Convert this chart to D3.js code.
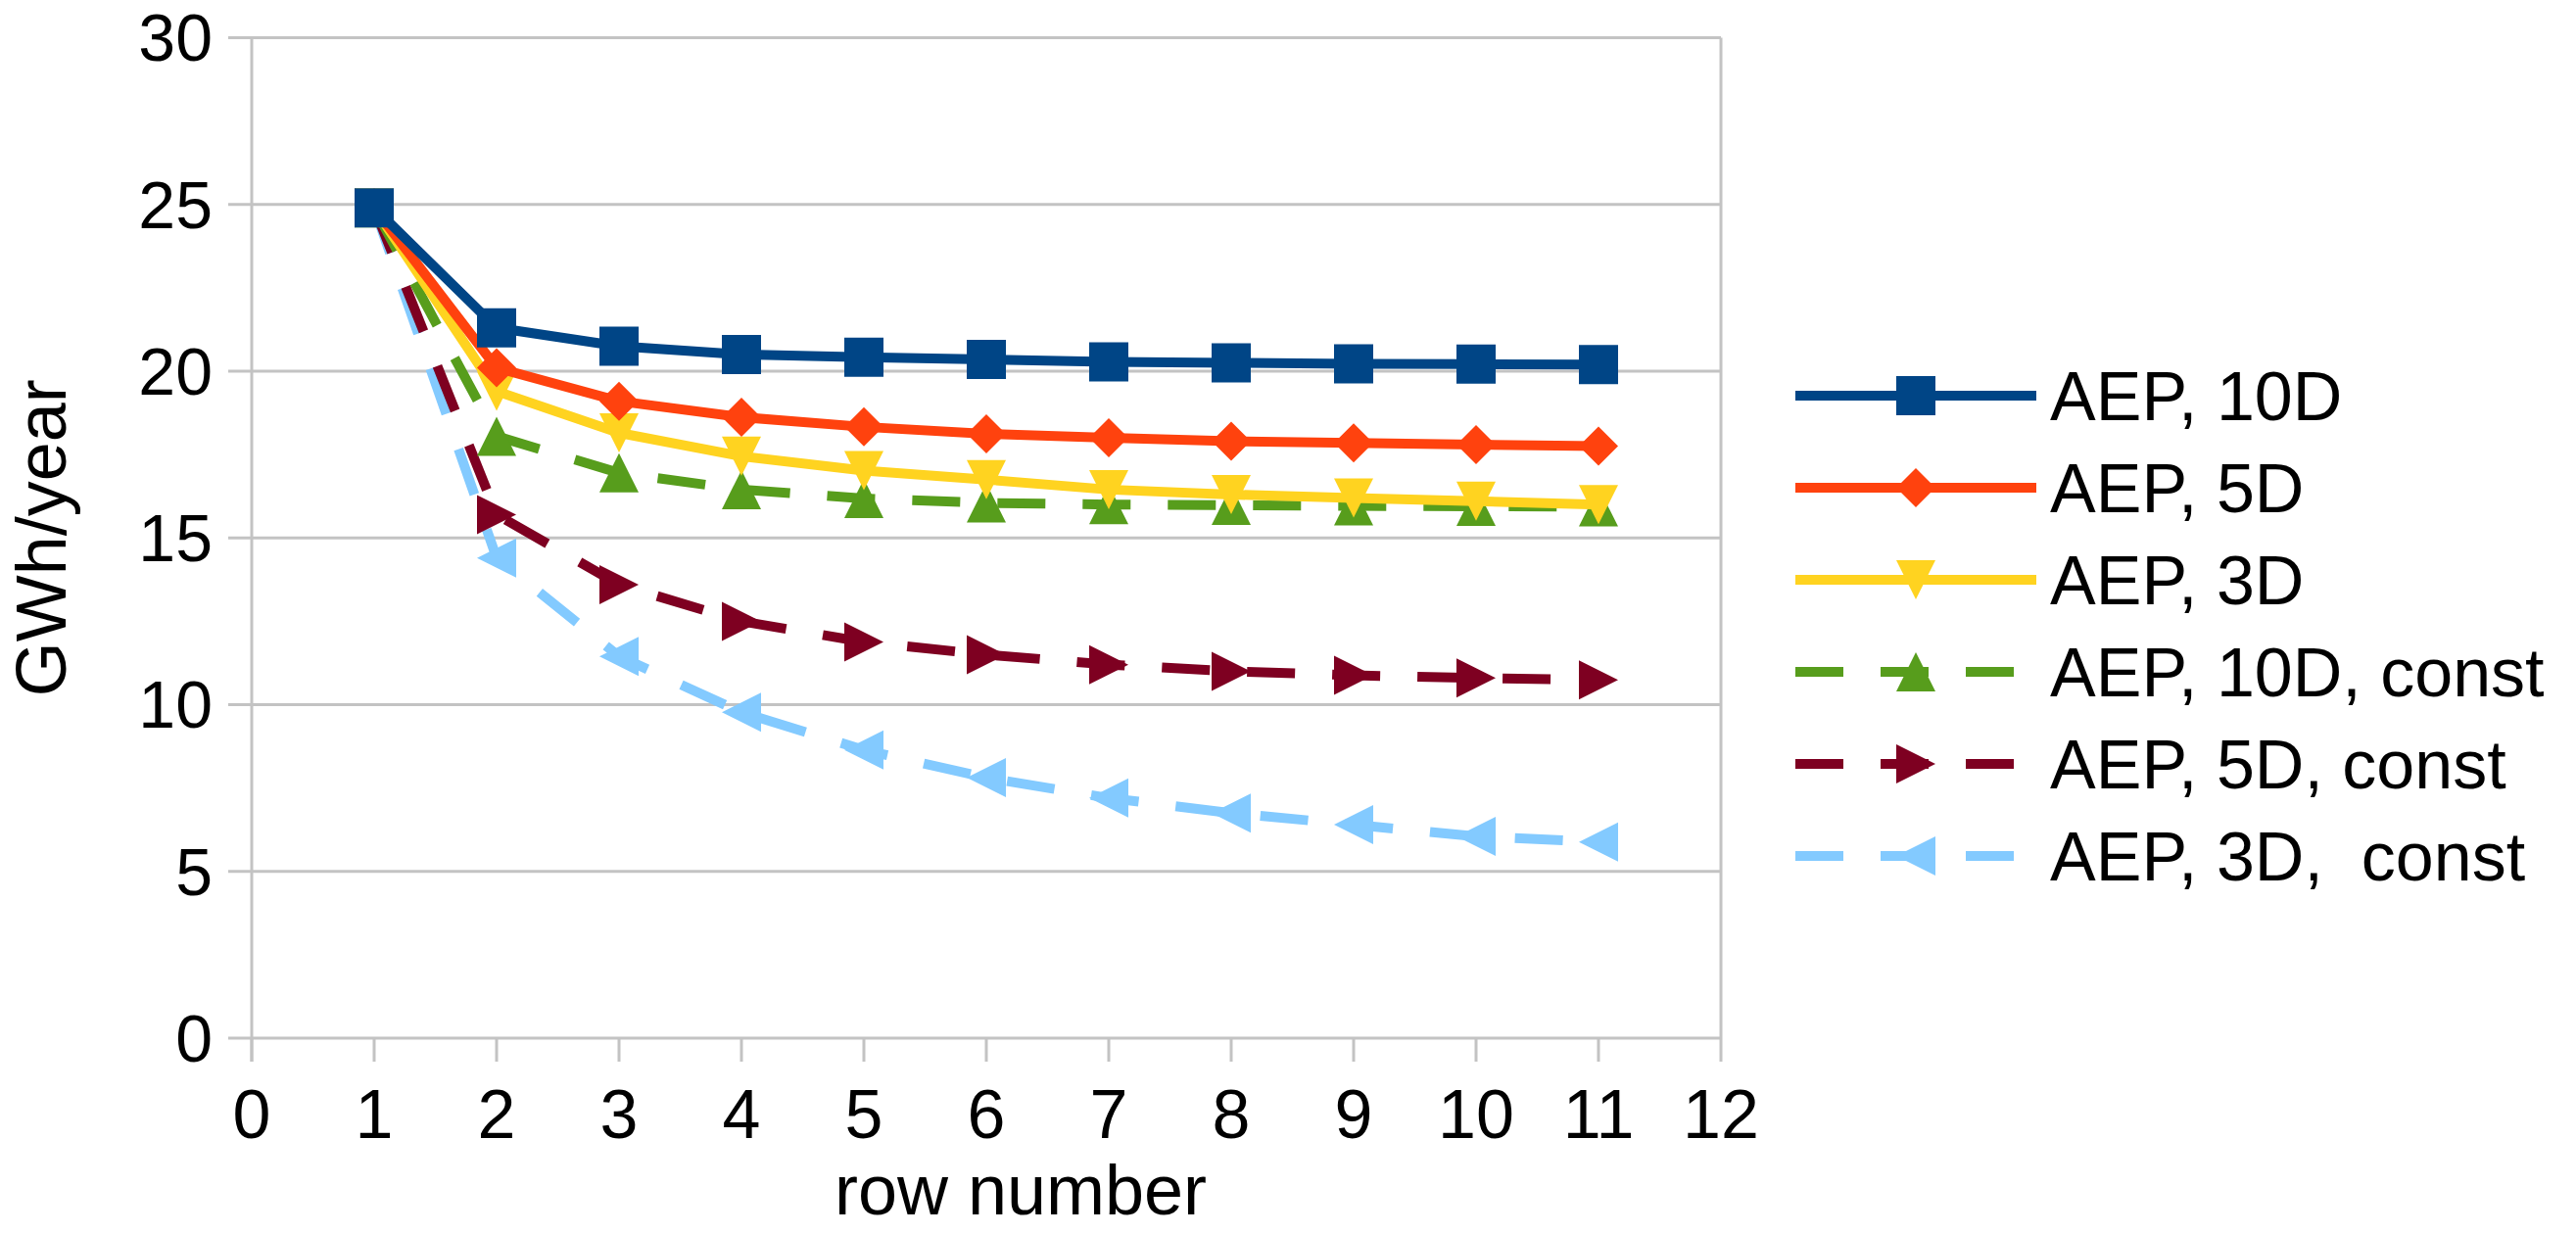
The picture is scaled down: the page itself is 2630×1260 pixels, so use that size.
<!DOCTYPE html>
<html>
<head>
<meta charset="utf-8">
<script src="https://cdn.jsdelivr.net/npm/d3@7"></script>
<style>
  body { margin: 0; background: #fff; }
  text { font-family: "Liberation Sans", Arial, sans-serif; fill: #000; }
</style>
</head>
<body>
<div id="chart"></div>
<script>
// row numbers and annual energy production per series (GWh/year)
var rows = [1, 2, 3, 4, 5, 6, 7, 8, 9, 10, 11];
var aep10D      = [24.9, 21.3, 20.75, 20.5, 20.42, 20.35, 20.28, 20.25, 20.22, 20.21, 20.2];
var aep5D       = [24.9, 20.1, 19.1, 18.62, 18.33, 18.12, 18.0, 17.9, 17.85, 17.8, 17.75];
var aep3D       = [24.9, 19.4, 18.15, 17.45, 17.02, 16.75, 16.45, 16.3, 16.2, 16.1, 16.0];
var aep10Dconst = [24.9, 18.05, 16.95, 16.45, 16.18, 16.05, 16.0, 15.98, 15.96, 15.95, 15.93];
var aep5Dconst  = [24.9, 15.7, 13.6, 12.5, 11.88, 11.5, 11.2, 11.0, 10.88, 10.8, 10.74];
var aep3Dconst  = [24.9, 14.4, 11.45, 9.77, 8.64, 7.81, 7.2, 6.75, 6.4, 6.05, 5.88];

var seriesNames = ["AEP, 10D", "AEP, 5D", "AEP, 3D", "AEP, 10D, const", "AEP, 5D, const", "AEP, 3D,  const"];
var xTicks = [0, 1, 2, 3, 4, 5, 6, 7, 8, 9, 10, 11, 12];
var yTicks = [0, 5, 10, 15, 20, 25, 30];

(function() {
  var width = 2630, height = 1260;
  // plot area edges
  var pLeft = 257, pRight = 1757, pTop = 38.5, pBottom = 1060;

  var series = [
    { name: seriesNames[0], values: aep10D,      color: "#004586", dash: null,    marker: "square" },
    { name: seriesNames[1], values: aep5D,       color: "#ff420e", dash: null,    marker: "diamond" },
    { name: seriesNames[2], values: aep3D,       color: "#ffd320", dash: null,    marker: "down" },
    { name: seriesNames[3], values: aep10Dconst, color: "#579d1c", dash: "49,38", marker: "up" },
    { name: seriesNames[4], values: aep5Dconst,  color: "#7e0021", dash: "49,38", marker: "right" },
    { name: seriesNames[5], values: aep3Dconst,  color: "#83caff", dash: "49,38", marker: "left" }
  ];

  var x = d3.scaleLinear().domain([0, 12]).range([pLeft, pRight]);
  var y = d3.scaleLinear().domain([0, 30]).range([pBottom, pTop]);

  var svg = d3.select("#chart").append("svg")
    .attr("width", width)
    .attr("height", height);

  var gridColor = "#c3c3c3";

  // horizontal grid lines (they stick out left as ticks)
  svg.append("g").selectAll("line")
    .data(yTicks)
    .enter().append("line")
    .attr("x1", pLeft - 24).attr("x2", pRight)
    .attr("y1", function(d) { return y(d); })
    .attr("y2", function(d) { return y(d); })
    .attr("stroke", gridColor)
    .attr("stroke-width", 3);

  // y axis line + right wall
  svg.append("line")
    .attr("x1", pLeft).attr("x2", pLeft).attr("y1", pTop).attr("y2", pBottom + 24)
    .attr("stroke", gridColor).attr("stroke-width", 3);
  svg.append("line")
    .attr("x1", pRight).attr("x2", pRight).attr("y1", pTop).attr("y2", pBottom)
    .attr("stroke", gridColor).attr("stroke-width", 3);

  // x ticks
  svg.append("g").selectAll("line")
    .data(xTicks)
    .enter().append("line")
    .attr("x1", function(d) { return x(d); })
    .attr("x2", function(d) { return x(d); })
    .attr("y1", pBottom).attr("y2", pBottom + 24)
    .attr("stroke", gridColor)
    .attr("stroke-width", 3);

  // tick labels
  svg.append("g").selectAll("text")
    .data(yTicks)
    .enter().append("text")
    .attr("x", 217)
    .attr("y", function(d) { return y(d); })
    .attr("dy", "0.35em")
    .attr("text-anchor", "end")
    .attr("font-size", 68)
    .text(function(d) { return d; });

  svg.append("g").selectAll("text")
    .data(xTicks)
    .enter().append("text")
    .attr("x", function(d) { return x(d); })
    .attr("y", 1162)
    .attr("text-anchor", "middle")
    .attr("font-size", 70)
    .text(function(d) { return d; });

  // axis titles
  svg.append("text")
    .attr("x", 1042)
    .attr("y", 1240)
    .attr("text-anchor", "middle")
    .attr("font-size", 72)
    .text("row number");

  svg.append("text")
    .attr("transform", "translate(67," + ((pTop + pBottom) / 2) + ") rotate(-90)")
    .attr("text-anchor", "middle")
    .attr("font-size", 72)
    .text("GWh/year");

  function markerPath(type, r) {
    switch (type) {
      case "square":  return "M" + (-r) + "," + (-r) + "H" + r + "V" + r + "H" + (-r) + "Z";
      case "diamond": return "M0," + (-r) + "L" + r + ",0L0," + r + "L" + (-r) + ",0Z";
      case "down":    return "M" + (-r) + "," + (-r) + "H" + r + "L0," + r + "Z";
      case "up":      return "M" + (-r) + "," + r + "H" + r + "L0," + (-r) + "Z";
      case "right":   return "M" + (-r) + "," + (-r) + "L" + r + ",0L" + (-r) + "," + r + "Z";
      case "left":    return "M" + r + "," + (-r) + "L" + (-r) + ",0L" + r + "," + r + "Z";
    }
  }

  var line = d3.line()
    .x(function(d, i) { return x(rows[i]); })
    .y(function(d) { return y(d); });

  // first series ends up on top, so draw in reverse order
  series.slice().reverse().forEach(function(s) {
    var g = svg.append("g");
    g.append("path")
      .attr("d", line(s.values))
      .attr("fill", "none")
      .attr("stroke", s.color)
      .attr("stroke-width", 10)
      .attr("stroke-linejoin", "round")
      .attr("stroke-dasharray", s.dash);
    g.selectAll("path.marker")
      .data(s.values)
      .enter().append("path")
      .attr("class", "marker")
      .attr("transform", function(d, i) { return "translate(" + x(rows[i]) + "," + y(d) + ")"; })
      .attr("d", markerPath(s.marker, 20))
      .attr("fill", s.color);
  });

  // legend
  var legend = svg.append("g").selectAll("g")
    .data(series)
    .enter().append("g")
    .attr("transform", function(d, i) { return "translate(0," + (404 + i * 94) + ")"; });

  legend.append("line")
    .attr("x1", 1833).attr("x2", 2079)
    .attr("stroke", function(d) { return d.color; })
    .attr("stroke-width", 10)
    .attr("stroke-dasharray", function(d) { return d.dash; });

  legend.append("path")
    .attr("transform", "translate(1956,0)")
    .attr("d", function(d) { return markerPath(d.marker, 20); })
    .attr("fill", function(d) { return d.color; });

  legend.append("text")
    .attr("x", 2093)
    .attr("dy", "0.36em")
    .attr("font-size", 70)
    .style("white-space", "pre")
    .text(function(d) { return d.name; });
})();
</script>
</body>
</html>
